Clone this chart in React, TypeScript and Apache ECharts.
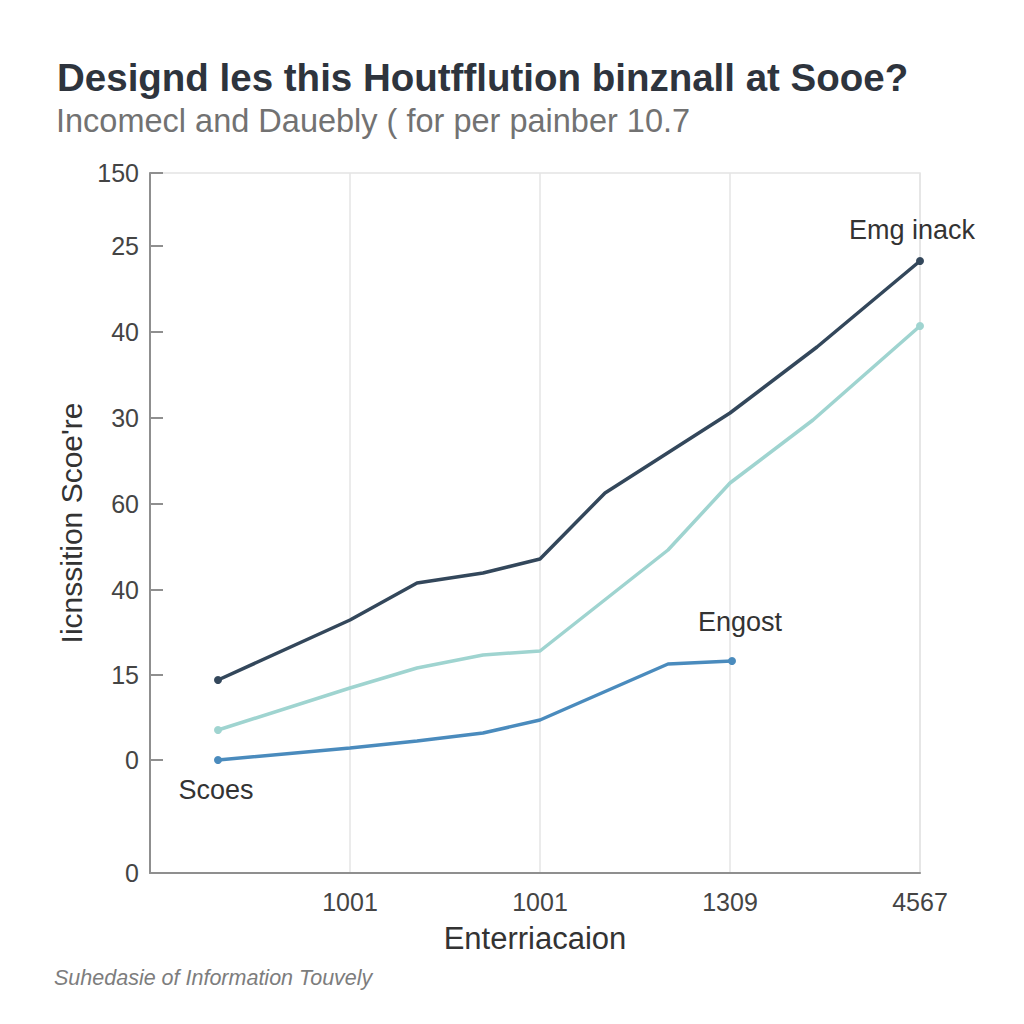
import React, { useEffect, useRef } from "react";
import * as echarts from "echarts";

const titleText = "Designd les this Houtfflution binznall at Sooe?";
const subtitleText = "Incomecl and Dauebly ( for per painber 10.7";
const footerText = "Suhedasie of Information Touvely";
const xAxisName = "Enterriacaion";
const yAxisName = "Iicnssition Scoe're";

// tick positions on the (internal) axis scales and their printed labels
const xTickValues = [200, 390, 580, 770];
const xTickLabels = ["1001", "1001", "1309", "4567"];
const yTickValues = [0, 113, 198, 283, 369, 455, 541, 627, 700];
const yTickLabels = ["0", "0", "15", "40", "60", "30", "40", "25", "150"];

// series: dark line ("Emg inack")
const darkX = [68, 200, 267, 333, 390, 455, 580, 667, 770];
const darkY = [193, 253, 290, 300, 314, 380, 460, 526, 612];
// teal line
const tealX = [68, 200, 267, 333, 390, 518, 580, 663, 770];
const tealY = [143, 185, 205, 218, 222, 323, 390, 453, 547];
// blue line ("Engost")
const blueX = [68, 200, 267, 333, 390, 518, 582];
const blueY = [113, 125, 132, 140, 153, 209, 212];

const FONT = "'Liberation Sans', Arial, Helvetica, sans-serif";

function buildData(xs: number[], ys: number[], color: string, labels: Record<number, any>) {
  return xs.map((x, i) => {
    const end = i === 0 || i === xs.length - 1;
    const item: any = {
      value: [x, ys[i]],
      symbol: end ? "circle" : "none",
      symbolSize: end ? 8 : 0,
      itemStyle: { color },
    };
    if (labels[i]) item.label = labels[i];
    return item;
  });
}

export default function App() {
  const ref = useRef<HTMLDivElement>(null);
  useEffect(() => {
    if (!ref.current) return;
    const chart = echarts.init(ref.current, null, { renderer: "svg" });
    const labelStyle = { show: true, fontFamily: FONT, fontSize: 27, color: "#333" };
    const lastDark = darkX.length - 1;
    const lastBlue = blueX.length - 1;
    chart.setOption({
      animation: false,
      backgroundColor: "#ffffff",
      title: [
        {
          text: titleText,
          left: 52,
          top: 53,
          textStyle: { fontFamily: FONT, fontSize: 38.5, fontWeight: "bold", color: "#2e343d" },
        },
        {
          text: subtitleText,
          left: 51,
          top: 99,
          textStyle: { fontFamily: FONT, fontSize: 32.5, fontWeight: "normal", color: "#727272" },
        },
        {
          text: footerText,
          left: 49,
          top: 962,
          textStyle: { fontFamily: FONT, fontSize: 21.5, fontStyle: "italic", fontWeight: "normal", color: "#7d7d7d" },
        },
      ],
      grid: {
        left: 150,
        right: 104,
        top: 173,
        bottom: 151,
        show: true,
        borderColor: "#e4e4e4",
        borderWidth: 1.5,
        containLabel: false,
      },
      xAxis: {
        type: "value",
        min: 0,
        max: 770,
        name: xAxisName,
        nameLocation: "middle",
        nameGap: 50,
        nameTextStyle: { fontFamily: FONT, fontSize: 31, color: "#333" },
        axisLine: { show: true, lineStyle: { color: "#8f8f8f", width: 2 } },
        axisTick: { show: false, customValues: xTickValues },
        axisLabel: {
          customValues: xTickValues,
          margin: 16,
          fontFamily: FONT,
          fontSize: 25,
          color: "#444",
          formatter: (v: number) => xTickLabels[xTickValues.indexOf(v)] ?? "",
        },
        splitLine: { show: true, lineStyle: { color: "#e4e4e4", width: 1.5 } },
      },
      yAxis: {
        type: "value",
        min: 0,
        max: 700,
        name: yAxisName,
        nameLocation: "middle",
        nameGap: 64,
        nameRotate: 90,
        nameTextStyle: { fontFamily: FONT, fontSize: 30, color: "#333" },
        axisLine: { show: true, lineStyle: { color: "#8f8f8f", width: 2 } },
        axisTick: {
          show: true,
          inside: true,
          length: 13,
          customValues: yTickValues.slice(1),
          lineStyle: { color: "#8f8f8f", width: 2 },
        },
        axisLabel: {
          customValues: yTickValues,
          margin: 11,
          fontFamily: FONT,
          fontSize: 25,
          color: "#444",
          formatter: (v: number) => yTickLabels[yTickValues.indexOf(v)] ?? "",
        },
        splitLine: { show: false },
      },
      series: [
        {
          type: "line",
          z: 3,
          clip: false,
          lineStyle: { color: "#9fd4d0", width: 3.5 },
          itemStyle: { color: "#9fd4d0" },
          data: buildData(tealX, tealY, "#9fd4d0", {}),
        },
        {
          type: "line",
          z: 4,
          clip: false,
          lineStyle: { color: "#4a8bbd", width: 3.5 },
          itemStyle: { color: "#4a8bbd" },
          data: buildData(blueX, blueY, "#4a8bbd", {
            0: { ...labelStyle, formatter: "Scoes", position: "bottom", distance: 12, offset: [-2, 0] },
            [lastBlue]: { ...labelStyle, formatter: "Engost", position: "top", distance: 22, offset: [8, 0] },
          }),
        },
        {
          type: "line",
          z: 5,
          clip: false,
          lineStyle: { color: "#33475b", width: 3.5 },
          itemStyle: { color: "#33475b" },
          data: buildData(darkX, darkY, "#33475b", {
            [lastDark]: { ...labelStyle, formatter: "Emg inack", position: "top", distance: 14, offset: [-8, 0] },
          }),
        },
      ],
    });
    return () => chart.dispose();
  }, []);
  return (
    <div
      ref={ref}
      style={{ position: "fixed", left: 0, top: 0, width: 1024, height: 1024, background: "#fff" }}
    />
  );
}
